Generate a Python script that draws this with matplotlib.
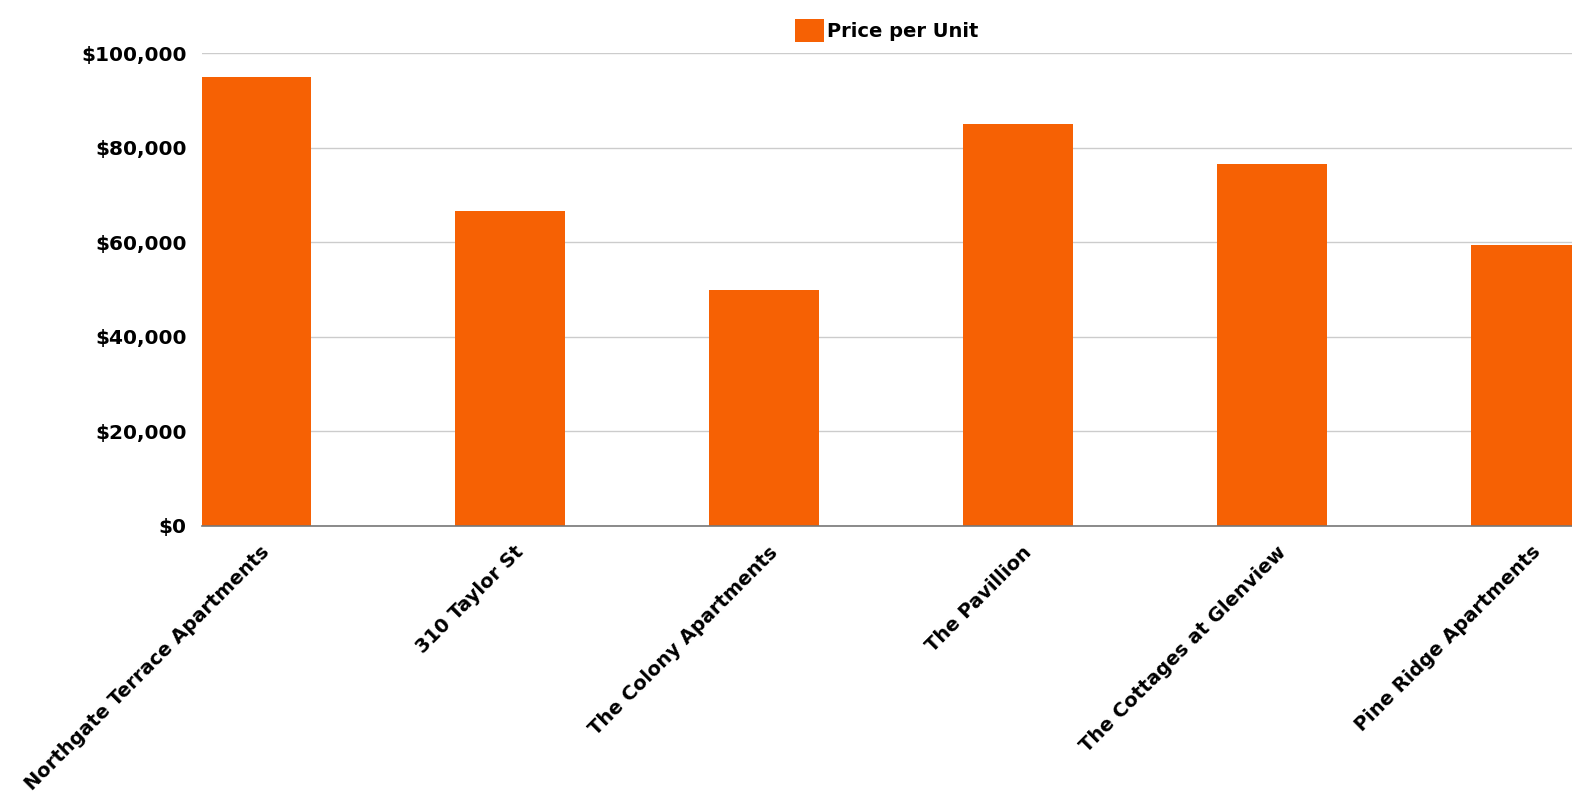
import matplotlib
matplotlib.use("Agg")
import matplotlib.pyplot as plt
import matplotlib.transforms as mtransforms
from matplotlib.ticker import FuncFormatter

# data
properties = [
    "Northgate Terrace Apartments",
    "310 Taylor St",
    "The Colony Apartments",
    "The Pavillion",
    "The Cottages at Glenview",
    "Pine Ridge Apartments",
]
price_per_unit = [95000, 66500, 50000, 85000, 76500, 59500]

BAR_COLOR = "#F66104"
plt.rcParams["font.family"] = ["DejaVu Sans"]

fig = plt.figure(figsize=(15.72, 7.96), dpi=100)
ax = fig.add_axes([0.1285, 0.3392, 0.8715, 0.5942])

x = list(range(len(properties)))
ax.bar(x, price_per_unit, width=0.433, color=BAR_COLOR, label="Price per Unit", zorder=3)

ax.set_xlim(-0.212, 5.18)
ax.set_ylim(0, 100000)
ax.set_yticks(range(0, 100001, 20000))
ax.yaxis.set_major_formatter(FuncFormatter(lambda v, p: f"${v:,.0f}"))
ax.grid(axis="y", color="#cccccc", linewidth=1, zorder=0)

for side in ["top", "right", "left"]:
    ax.spines[side].set_visible(False)
ax.spines["bottom"].set_color("#777777")
ax.spines["bottom"].set_linewidth(1.2)
ax.spines["bottom"].set_zorder(4)

ax.tick_params(axis="y", length=0, pad=11, labelsize=14.5)
ax.tick_params(axis="x", length=0, pad=6)
for lbl in ax.get_yticklabels():
    lbl.set_fontweight("bold")

ax.set_xticks(x)
ax.set_xticklabels(properties, rotation=45, ha="right", va="center",
                   rotation_mode="anchor", fontsize=14, fontweight="bold")
shift = mtransforms.ScaledTranslation(11 / 100, -15 / 100, fig.dpi_scale_trans)
for lbl in ax.get_xticklabels():
    lbl.set_transform(lbl.get_transform() + shift)

leg = ax.legend(loc="lower center", bbox_to_anchor=(0.5, 1.0), frameon=False,
                handlelength=1.5, handleheight=1.5, handletextpad=0.15,
                borderaxespad=0.15, prop={"size": 14, "weight": "bold"})

fig.savefig("out.png", dpi=100)
